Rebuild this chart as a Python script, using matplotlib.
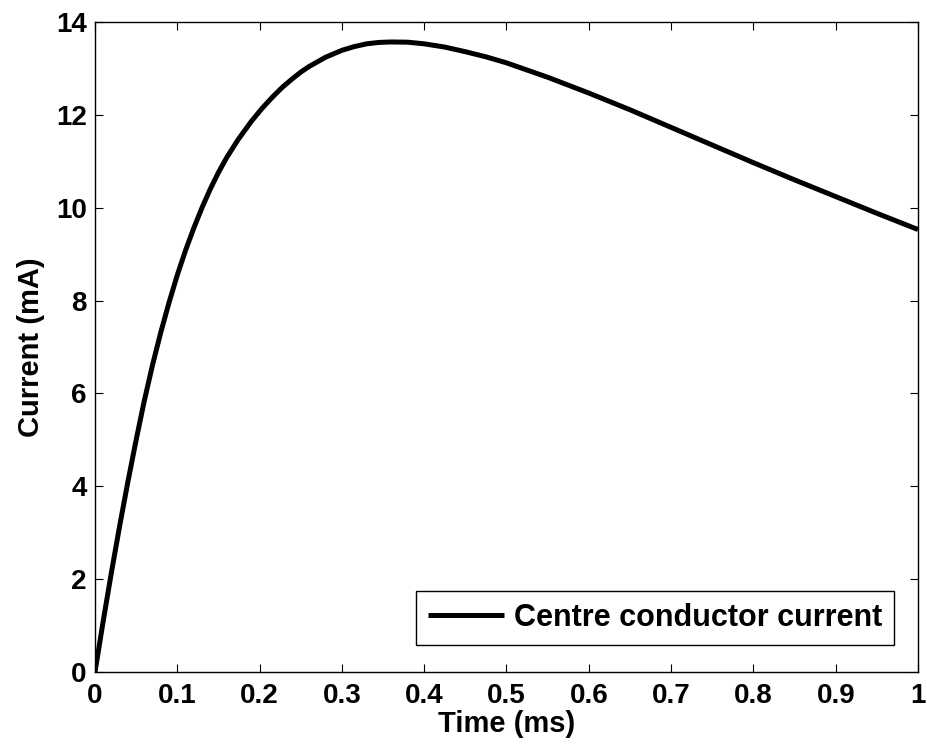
import matplotlib
matplotlib.use("Agg")
import matplotlib.pyplot as plt

plt.rcParams['font.family'] = ['Liberation Sans', 'DejaVu Sans']
plt.rcParams['font.weight'] = 'bold'

# Data
time_ms = [0, 0.01, 0.02, 0.03, 0.04, 0.05, 0.06, 0.07, 0.08, 0.09, 0.1,
           0.11, 0.12, 0.13, 0.14, 0.15, 0.16, 0.174, 0.19, 0.203, 0.216,
           0.228, 0.24, 0.25, 0.26, 0.28, 0.3, 0.315, 0.33, 0.345, 0.36,
           0.38, 0.4, 0.425, 0.45, 0.475, 0.5, 0.55, 0.6, 0.65, 0.7, 0.75,
           0.8, 0.85, 0.9, 0.95, 1.0]
current_mA = [0, 1.1, 2.15, 3.15, 4.1, 5.0, 5.85, 6.62, 7.32, 7.96, 8.55,
              9.08, 9.56, 10.0, 10.4, 10.76, 11.08, 11.47, 11.86, 12.14, 12.39,
              12.6, 12.78, 12.92, 13.04, 13.24, 13.39, 13.47, 13.53, 13.56, 13.57,
              13.565, 13.53, 13.46, 13.36, 13.25, 13.12, 12.81, 12.47, 12.11, 11.73, 11.35,
              10.97, 10.6, 10.24, 9.88, 9.53]
x_ticks = [0, 0.1, 0.2, 0.3, 0.4, 0.5, 0.6, 0.7, 0.8, 0.9, 1]
x_tick_labels = ['0', '0.1', '0.2', '0.3', '0.4', '0.5', '0.6', '0.7', '0.8', '0.9', '1']
y_ticks = [0, 2, 4, 6, 8, 10, 12, 14]
series_label = 'Centre conductor current'

fig = plt.figure(figsize=(9.28, 7.51), dpi=100)
ax = fig.add_axes([95/928, 1 - 672/751, 823/928, 650/751])

ax.plot(time_ms, current_mA, color='black', linewidth=3.6,
        solid_joinstyle='round', solid_capstyle='butt', label=series_label)

ax.set_xlim(0, 1)
ax.set_ylim(0, 14)
ax.set_xticks(x_ticks)
ax.set_xticklabels(x_tick_labels)
ax.set_yticks(y_ticks)
ax.tick_params(axis='both', which='both', direction='in', length=6, width=0.8,
               top=True, right=True, labelsize=20, color='black')
ax.tick_params(axis='x', pad=8)
ax.tick_params(axis='y', pad=6)
for lab in ax.get_xticklabels() + ax.get_yticklabels():
    lab.set_fontweight('bold')
for sp in ax.spines.values():
    sp.set_linewidth(1.0)
    sp.set_color('black')

ax.set_xlabel('Time (ms)', fontsize=21, fontweight='bold', labelpad=1)
ax.set_ylabel('Current (mA)', fontsize=21, fontweight='bold', labelpad=8)

leg = ax.legend(loc='lower right', bbox_to_anchor=(0.971, 0.0415),
                borderaxespad=0, fancybox=False, framealpha=1,
                edgecolor='black', fontsize=22, handlelength=2.5,
                handletextpad=0.3, borderpad=0.4)
leg.get_frame().set_linewidth(1.0)
for t in leg.get_texts():
    t.set_fontweight('bold')

fig.savefig('out.png', dpi=100)
